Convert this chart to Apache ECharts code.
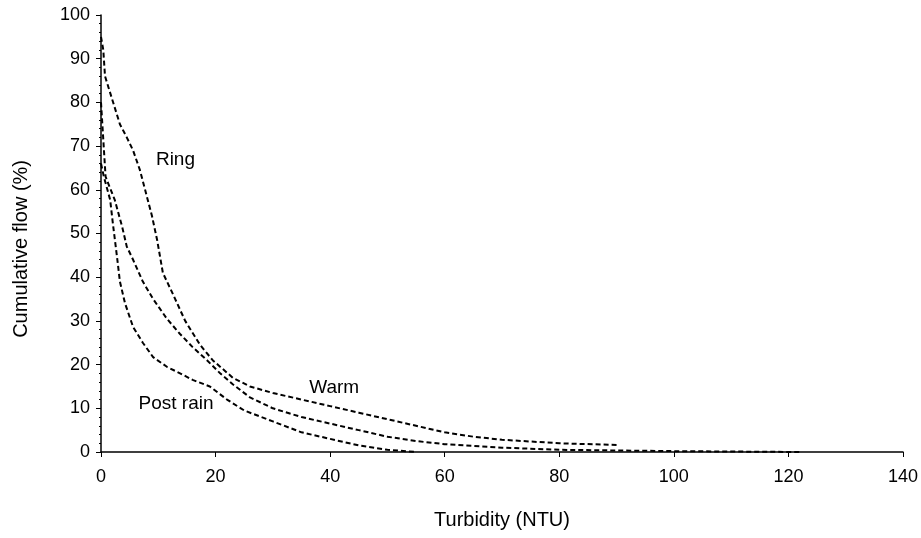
<!DOCTYPE html>
<html>
<head>
<meta charset="utf-8">
<script src="https://cdn.jsdelivr.net/npm/echarts@6/dist/echarts.min.js"></script>
<style>
  html, body { margin: 0; padding: 0; background: #fff; }
  #chart { width: 921px; height: 538px; }
</style>
</head>
<body>
<div id="chart"></div>
<script>
// 曲线数据（浊度 NTU / 累计流量 %）
var ringX = [0, 0.4, 0.7, 2, 3.3, 4.5, 5.6, 6.8, 7.7, 8.9, 9.8, 10.8, 12.6, 14.7, 17.3, 19.5, 23, 26, 30, 35, 40, 45, 50, 55, 60, 65, 70, 80, 90];
var ringY = [95, 92, 86, 80.5, 75, 72, 69, 64.5, 60, 54, 48.5, 41, 36, 30, 24.5, 21, 17, 15, 13.5, 12, 10.5, 9, 7.5, 6, 4.5, 3.5, 2.8, 2, 1.6];

var warmX = [0, 0.8, 2.4, 3.7, 4.5, 5.6, 7.3, 9.1, 11.5, 13.8, 16, 18.5, 20.8, 23, 26, 30, 35, 40, 45, 50, 55, 60, 70, 80, 100, 122];
var warmY = [80, 63, 57.7, 51.5, 47, 44, 39, 35, 30.5, 27, 24, 21, 18, 15.5, 12.5, 10, 8, 6.5, 5, 3.5, 2.5, 1.8, 1, 0.5, 0.2, 0];

var postX = [0, 0.5, 1.6, 2.1, 2.8, 3.3, 4.2, 5.6, 7.3, 9.1, 11.5, 13.8, 16, 19, 22, 25, 30, 35, 40, 45, 50, 55];
var postY = [66, 63, 57.7, 52, 44.6, 39, 34, 28.6, 25, 21.7, 19.5, 18, 16.5, 15, 12, 9.5, 7, 4.5, 3, 1.5, 0.5, 0];

var seriesNames = ['Ring', 'Warm', 'Post rain'];
// 标签位置（数据坐标）
var labelX = [13, 40.7, 13.1];
var labelY = [66.8, 14.6, 11];

var xTicks = [0, 20, 40, 60, 80, 100, 120, 140];
var yTicks = [0, 10, 20, 30, 40, 50, 60, 70, 80, 90, 100];

function pairs(xs, ys) {
    var out = [];
    for (var i = 0; i < xs.length; i++) {
        out.push([xs[i], ys[i]]);
    }
    return out;
}

var allX = [ringX, warmX, postX];
var allY = [ringY, warmY, postY];
var fontName = 'Liberation Sans';

var myChart = echarts.init(document.getElementById('chart'));

var series = seriesNames.map(function (name, i) {
    return {
        name: name,
        type: 'line',
        data: pairs(allX[i], allY[i]),
        showSymbol: false,
        animation: false,
        lineStyle: {
            color: '#000',
            width: 2,
            type: [5, 3]
        },
        markPoint: {
            symbol: 'circle',
            symbolSize: 0,
            data: [{
                coord: [labelX[i], labelY[i]],
                label: {
                    show: true,
                    position: 'inside',
                    formatter: name,
                    color: '#000',
                    fontSize: 19,
                    fontFamily: fontName
                }
            }]
        }
    };
});

var option = {
    backgroundColor: '#fff',
    grid: {
        left: 101,
        right: 18,
        top: 15,
        bottom: 86
    },
    graphic: [{
        type: 'text',
        left: 11,
        top: 160,
        rotation: Math.PI / 2,
        style: {
            text: 'Cumulative flow (%)',
            fill: '#000',
            font: '20px "Liberation Sans"'
        }
    }],
    xAxis: {
        type: 'value',
        min: xTicks[0],
        max: xTicks[xTicks.length - 1],
        interval: 20,
        name: 'Turbidity (NTU)',
        nameLocation: 'middle',
        nameGap: 58,
        nameTextStyle: { color: '#000', fontSize: 20, fontFamily: fontName },
        axisLine: { lineStyle: { color: '#000', width: 1.5 } },
        axisTick: { show: true, length: 5, lineStyle: { color: '#000' } },
        axisLabel: { color: '#000', fontSize: 18, fontFamily: fontName, margin: 16 },
        splitLine: { show: false }
    },
    yAxis: {
        type: 'value',
        min: yTicks[0],
        max: yTicks[yTicks.length - 1],
        interval: 10,
        axisLine: { show: true, lineStyle: { color: '#000', width: 1.5 } },
        axisTick: { show: true, length: 5, lineStyle: { color: '#000' } },
        minorTick: { show: true, splitNumber: 5, length: 2, lineStyle: { color: '#000' } },
        axisLabel: { color: '#000', fontSize: 18, fontFamily: fontName, margin: 11 },
        splitLine: { show: false }
    },
    series: series
};

myChart.setOption(option);
window.addEventListener('resize', function () {
    myChart.resize();
});
</script>
</body>
</html>
